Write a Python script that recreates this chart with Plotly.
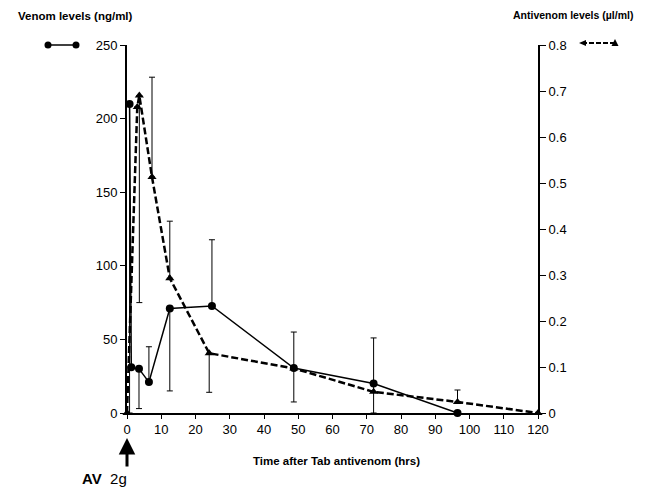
import plotly.graph_objects as go

# Venom (ng/ml), solid line with circles
venom_t = [0.75, 1.25, 3.5, 6.4, 12.5, 24.8, 48.7, 72, 96.5]
venom_v = [210, 31, 30, 21, 71, 72.7, 30.5, 20, 0]
venom_err_plus = [0, 0, 0, 24, 0, 45, 24.5, 31, 0]
venom_err_minus = [210, 0, 27, 0, 56, 0, 23, 20, 0]

# Antivenom (ul/ml), dashed line with triangles
av_t = [0, 3, 3.6, 7.3, 12.5, 24, 48.7, 72, 96.5, 120]
av_v = [0, 0.665, 0.69, 0.513, 0.293, 0.13, 0.097, 0.046, 0.024, 0]
av_err_plus = [0, 0, 0, 0.217, 0.124, 0, 0, 0, 0.026, 0]
av_err_minus = [0, 0, 0.45, 0, 0, 0.085, 0, 0, 0, 0]

x_ticks = list(range(0, 121, 10))
y_ticks = [0, 50, 100, 150, 200, 250]
y2_ticks = [0, 0.1, 0.2, 0.3, 0.4, 0.5, 0.6, 0.7, 0.8]
y2_labels = ["0", "0.1", "0.2", "0.3", "0.4", "0.5", "0.6", "0.7", "0.8"]

BASE = "Liberation Sans, Arial, sans-serif"

# The page body has an 8px default margin; the figure is sized so the plot
# area lands at screen x 127..538, y 45..413.
fig = go.Figure()
fig.add_trace(go.Scatter(
    x=venom_t, y=venom_v, mode="lines+markers",
    line=dict(color="black", width=1.5),
    marker=dict(symbol="circle", size=8, color="black"),
    error_y=dict(type="data", symmetric=False, array=venom_err_plus,
                 arrayminus=venom_err_minus, color="black", thickness=1, width=3),
    cliponaxis=False, showlegend=False, yaxis="y"))
fig.add_trace(go.Scatter(
    x=av_t, y=av_v, mode="lines+markers",
    line=dict(color="black", width=2.5, dash="7px,3px"),
    marker=dict(symbol="triangle-up", size=8, color="black"),
    error_y=dict(type="data", symmetric=False, array=av_err_plus,
                 arrayminus=av_err_minus, color="black", thickness=1, width=3),
    cliponaxis=False, showlegend=False, yaxis="y2"))

fig.update_layout(
    width=639, height=481,
    margin=dict(l=119, r=109, t=37, b=76),
    paper_bgcolor="white", plot_bgcolor="white",
    font=dict(family=BASE, size=13, color="black"),
    xaxis=dict(range=[0, 120], tickvals=x_ticks, showgrid=False, zeroline=False,
               showline=True, linecolor="black", linewidth=1.5,
               ticks="outside", ticklen=4, tickwidth=1, tickcolor="black",
               tickfont=dict(size=13, family=BASE)),
    yaxis=dict(range=[0, 250], tickvals=y_ticks, showgrid=False, zeroline=False,
               showline=True, linecolor="black", linewidth=2,
               ticks="outside", ticklen=5, tickwidth=1, tickcolor="black",
               tickfont=dict(size=13, family=BASE)),
    yaxis2=dict(range=[0, 0.8], tickvals=y2_ticks, ticktext=y2_labels,
                overlaying="y", side="right", showgrid=False, zeroline=False,
                showline=True, linecolor="black", linewidth=2,
                ticks="outside", ticklen=6, tickwidth=1, tickcolor="black",
                tickfont=dict(size=13, family=BASE)),
)


def px_to_paper(px, py):
    return ((px - 127) / 411, (413 - py) / 368)


# Axis titles
tx, ty = px_to_paper(16, 16)
fig.add_annotation(text="<b>Venom levels (ng/ml)</b>", xref="paper", yref="paper",
                   x=tx, y=ty, xanchor="left", yanchor="middle",
                   showarrow=False, font=dict(size=11.5, family=BASE))
tx, ty = px_to_paper(512, 15)
fig.add_annotation(text="<b>Antivenom levels (µl/ml)</b>", xref="paper", yref="paper",
                   x=tx, y=ty, xanchor="left", yanchor="middle", borderpad=0,
                   showarrow=False, font=dict(size=10.5, family=BASE))
tx, ty = px_to_paper(336, 461)
fig.add_annotation(text="<b>Time after Tab antivenom (hrs)</b>", xref="paper", yref="paper",
                   x=tx, y=ty, xanchor="center", yanchor="middle",
                   showarrow=False, font=dict(size=11.5, family=BASE))
tx, ty = px_to_paper(80, 478)
fig.add_annotation(text="<b>AV</b>  2g", xref="paper", yref="paper",
                   x=tx, y=ty, xanchor="left", yanchor="middle",
                   showarrow=False, font=dict(size=15, family=BASE))

# Arrow pointing up at time 0
fig.add_annotation(text="", xref="x", yref="paper", x=0, y=0, ax=0, ay=55,
                   showarrow=True, arrowhead=2, arrowsize=1.1, arrowwidth=3,
                   arrowcolor="black", standoff=25)

# Legend glyphs (decorative)
x1, yl = px_to_paper(48, 45)
x2, _ = px_to_paper(76, 45)
fig.add_shape(type="line", xref="paper", yref="paper", x0=x1, x1=x2, y0=yl, y1=yl,
              line=dict(color="black", width=1.5))
for xx in (x1, x2):
    fig.add_shape(type="circle", xref="paper", yref="paper", xsizemode="pixel",
                  ysizemode="pixel", xanchor=xx, yanchor=yl, x0=-3.5, x1=3.5,
                  y0=-3.5, y1=3.5, fillcolor="black", line=dict(color="black", width=0))

x3, yr = px_to_paper(582, 43)
x4, _ = px_to_paper(615, 43)
fig.add_shape(type="line", xref="paper", yref="paper", x0=x3, x1=x4, y0=yr, y1=yr,
              line=dict(color="black", width=2, dash="5px,2px"))
fig.add_shape(type="path", xref="paper", yref="paper", xsizemode="pixel",
              ysizemode="pixel", xanchor=x3, yanchor=yr,
              path="M -3 0 L 4 3 L 4 -3 Z",
              fillcolor="black", line=dict(color="black", width=0))
fig.add_shape(type="path", xref="paper", yref="paper", xsizemode="pixel",
              ysizemode="pixel", xanchor=x4, yanchor=yr,
              path="M -3.5 -3 L 3.5 -3 L 0 4 Z",
              fillcolor="black", line=dict(color="black", width=0))

fig.write_html("out.html")
